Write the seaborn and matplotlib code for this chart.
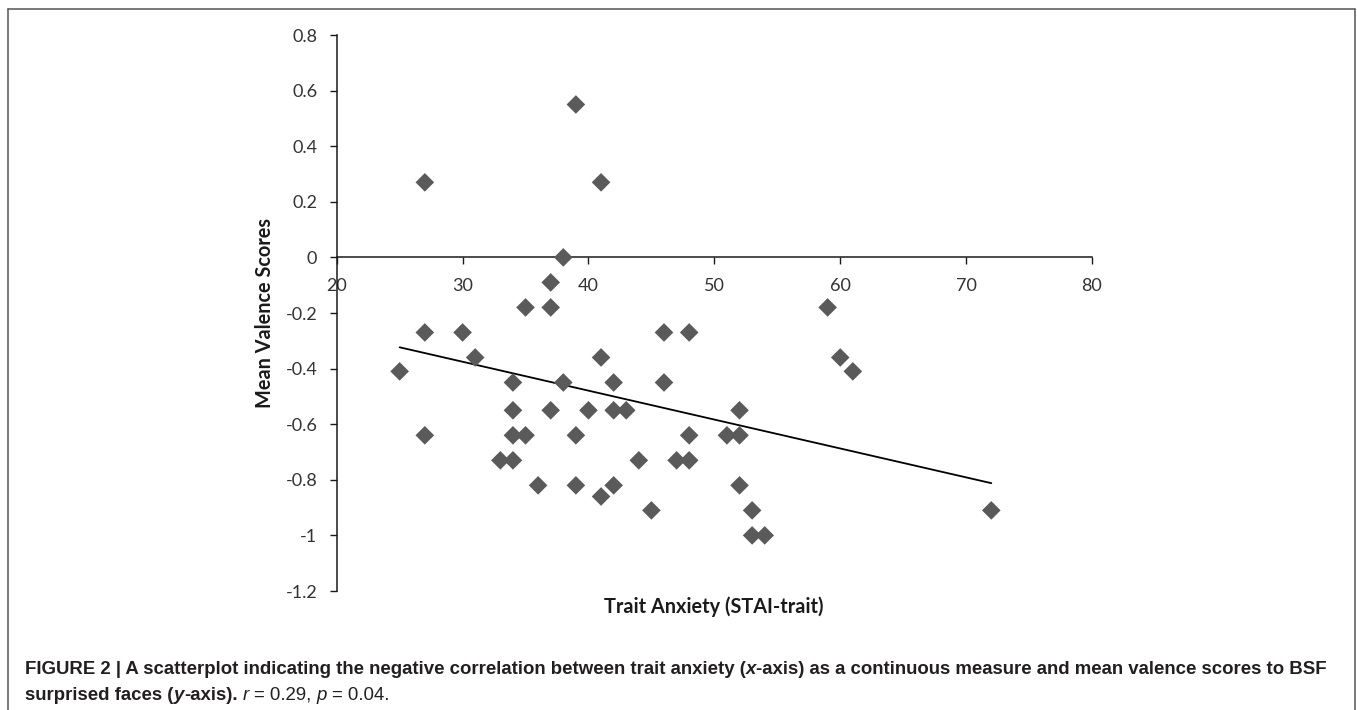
import pandas as pd
import seaborn as sns
import matplotlib.pyplot as plt
from matplotlib.lines import Line2D

# trait anxiety (STAI-trait) and mean valence scores
trait_anxiety = [25, 27, 27, 27, 30, 31, 33, 34, 34, 34, 34, 35, 35, 36, 37, 37, 37,
                 38, 38, 39, 39, 39, 40, 41, 41, 41, 42, 42, 42, 43, 44, 45, 46, 46,
                 47, 48, 48, 48, 51, 52, 52, 52, 53, 53, 54, 59, 60, 61, 72]
valence = [-0.41, 0.27, -0.27, -0.64, -0.27, -0.36, -0.73, -0.45, -0.55, -0.64, -0.73,
           -0.18, -0.64, -0.82, -0.09, -0.18, -0.55, 0.0, -0.45, 0.55, -0.64, -0.82,
           -0.55, 0.27, -0.36, -0.86, -0.45, -0.55, -0.82, -0.55, -0.73, -0.91, -0.27,
           -0.45, -0.73, -0.27, -0.64, -0.73, -0.64, -0.55, -0.64, -0.82, -0.91, -1.0,
           -1.0, -0.18, -0.36, -0.41, -0.91]

x_ticks = [20, 30, 40, 50, 60, 70, 80]
y_ticks = [0.8, 0.6, 0.4, 0.2, 0, -0.2, -0.4, -0.6, -0.8, -1, -1.2]
y_tick_labels = ['0.8', '0.6', '0.4', '0.2', '0', '-0.2', '-0.4', '-0.6', '-0.8', '-1', '-1.2']

df = pd.DataFrame({'trait': trait_anxiety, 'valence': valence})

sns.set_style('white')
plt.rcParams['font.family'] = ['Lato', 'DejaVu Sans']

W, H = 1357, 710
fig = plt.figure(figsize=(W / 100, H / 100), dpi=100)
fig.patch.set_facecolor('white')

# plot area in pixels: x 336.7..1092, y 35..591
ax = fig.add_axes([336.7 / W, 1 - 591 / H, (1092 - 336.7) / W, (591 - 35) / H])

sns.scatterplot(data=df, x='trait', y='valence', marker='D', s=90, color='#5a5a5a',
                edgecolor='none', linewidth=0, ax=ax, zorder=3)
sns.regplot(data=df, x='trait', y='valence', scatter=False, ci=None, color='black',
            line_kws={'linewidth': 1.3}, ax=ax)

ax.set_xlim(20, 80)
ax.set_ylim(-1.2, 0.8)
ax.set_xticks(x_ticks)
ax.set_xticklabels([str(t) for t in x_ticks])
ax.set_yticks(y_ticks)
ax.set_yticklabels(y_tick_labels)
ax.set_xlabel('')
ax.set_ylabel('')

ax.spines['bottom'].set_position(('data', 0))
ax.spines['top'].set_visible(False)
ax.spines['right'].set_visible(False)
for side in ['left', 'bottom']:
    ax.spines[side].set_color('#1a1a1a')
    ax.spines[side].set_linewidth(1.1)

ax.tick_params(axis='x', direction='out', length=5, width=1, pad=10,
               labelsize=13, color='#1a1a1a', labelcolor='#333333', bottom=True)
ax.tick_params(axis='y', direction='out', length=5, width=1, pad=9,
               labelsize=13, color='#1a1a1a', labelcolor='#333333', left=True)

fig.text(714 / W, 1 - 607 / H, 'Trait Anxiety (STAI-trait)', ha='center', va='center',
         fontsize=14.3, fontweight='bold', color='#1a1a1a')
fig.text(265 / W, 1 - 313 / H, 'Mean Valence Scores', ha='center', va='center',
         rotation=90, fontsize=14.3, fontweight='bold', color='#1a1a1a')

# frame around the figure panel
frame_kw = dict(color='#555555', linewidth=1.1, transform=fig.transFigure)
fig.add_artist(Line2D([7.5 / W, 7.5 / W], [0, 1 - 9 / H], **frame_kw))
fig.add_artist(Line2D([7.5 / W, 1355 / W], [1 - 9 / H, 1 - 9 / H], **frame_kw))
fig.add_artist(Line2D([1355 / W, 1355 / W], [0, 1 - 9 / H], **frame_kw))

# caption, drawn piece by piece to mix bold / italic
cap_font = ['Liberation Sans', 'DejaVu Sans']
cap_size = 13.4
cap_color = '#231f20'
renderer = fig.canvas.get_renderer()


def text_width(s, weight='normal', style='normal'):
    t = fig.text(0, 0, s, family=cap_font, fontsize=cap_size, fontweight=weight, fontstyle=style)
    w = t.get_window_extent(renderer).width
    t.remove()
    return w


space = text_width('a a') - text_width('aa')


def caption_line(y_px, parts):
    x = 25.0
    for txt, weight, style in parts:
        if txt == ' ':
            x += space
            continue
        t = fig.text(x / W, 1 - y_px / H, txt, family=cap_font, fontsize=cap_size,
                     fontweight=weight, fontstyle=style, color=cap_color,
                     ha='left', va='baseline')
        x += t.get_window_extent(renderer).width


caption_line(674, [
    ('FIGURE 2 | A scatterplot indicating the negative correlation between trait anxiety (', 'bold', 'normal'),
    ('x', 'bold', 'italic'),
    ('-axis) as a continuous measure and mean valence scores to BSF', 'bold', 'normal'),
])
caption_line(700, [
    ('surprised faces (', 'bold', 'normal'),
    ('y', 'bold', 'italic'),
    ('-axis).', 'bold', 'normal'),
    (' ', None, None),
    ('r', 'normal', 'italic'),
    (' ', None, None),
    ('= 0.29,', 'normal', 'normal'),
    (' ', None, None),
    ('p', 'normal', 'italic'),
    (' ', None, None),
    ('= 0.04.', 'normal', 'normal'),
])

fig.savefig('out.png', dpi=100, facecolor='white')
